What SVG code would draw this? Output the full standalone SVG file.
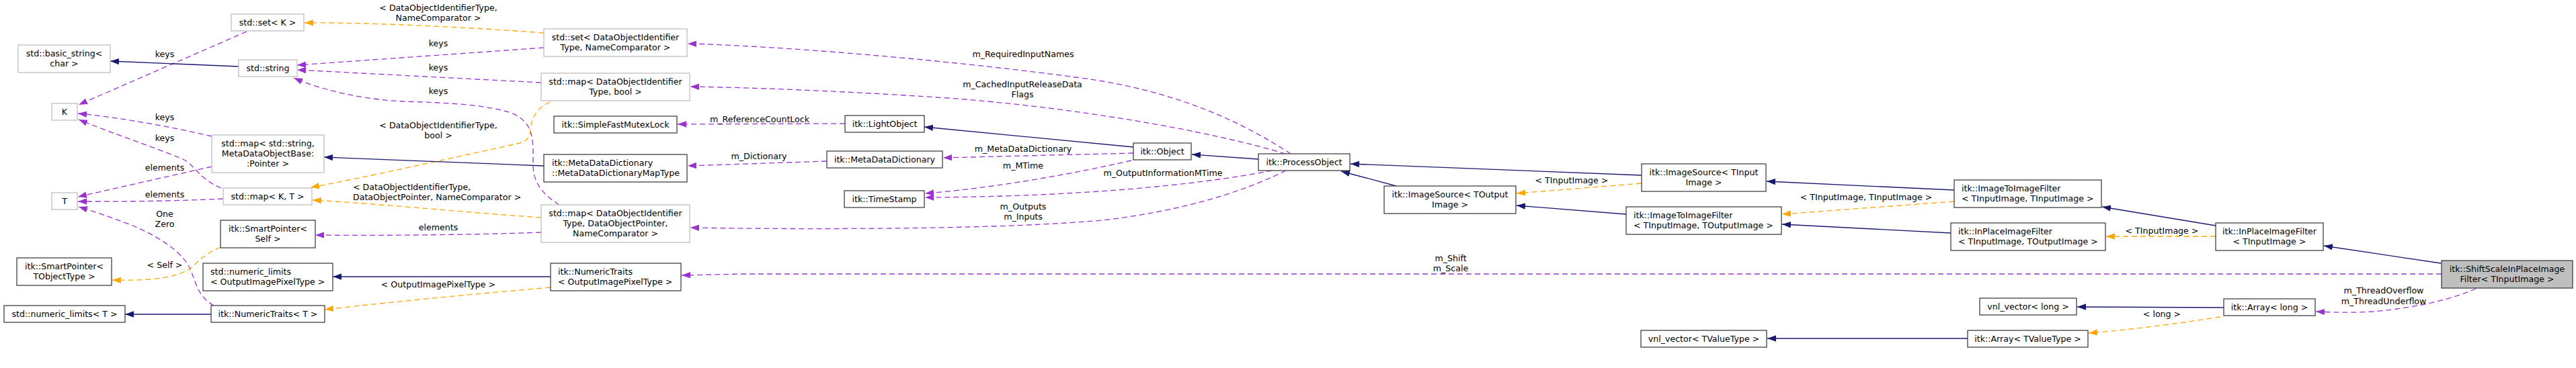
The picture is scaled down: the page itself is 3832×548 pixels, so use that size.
<svg xmlns="http://www.w3.org/2000/svg" width="3832" height="548" viewBox="0 0 3832 548">
<style>
text{font-family:"DejaVu Sans","Liberation Sans",sans-serif;font-size:12.6px;fill:#000}
.c{text-anchor:middle}
.l{text-anchor:start}
.nb rect{fill:#fff;stroke:#404040;stroke-width:1.3}
.ng rect{fill:#fff;stroke:#bfbfbf;stroke-width:1.3}
.ns rect{fill:#bfbfbf;stroke:#404040;stroke-width:1.3}
.e{fill:none;stroke-width:1.3}
.inh{stroke:#191970;marker-end:url(#aB)}
.use{stroke:#9a32cd;stroke-dasharray:8,5;marker-end:url(#aP)}
.tpl{stroke:#ffa500;stroke-dasharray:8,5;marker-end:url(#aO)}
</style>
<defs>
<marker id="aB" markerUnits="userSpaceOnUse" markerWidth="14" markerHeight="10" refX="13" refY="4.7" orient="auto"><path d="M0,0 L13,4.7 L0,9.4 z" fill="#191970" stroke="none"/></marker>
<marker id="aP" markerUnits="userSpaceOnUse" markerWidth="14" markerHeight="10" refX="13" refY="4.7" orient="auto"><path d="M0,0 L13,4.7 L0,9.4 z" fill="#9a32cd" stroke="none"/></marker>
<marker id="aO" markerUnits="userSpaceOnUse" markerWidth="14" markerHeight="10" refX="13" refY="4.7" orient="auto"><path d="M0,0 L13,4.7 L0,9.4 z" fill="#ffa500" stroke="none"/></marker>
</defs>
<rect x="0" y="0" width="3832" height="548" fill="#fff"/>
<g id="connectors">
<g><path class="e use" d="M367,47 L117,156"/><text class="c" x="245" y="85">keys</text></g>
<path class="e inh" d="M355,99 L164,91"/>
<g><path class="e use" d="M315,203 C260,190 180,175 116,169"/><text class="c" x="245" y="179">keys</text></g>
<g><path class="e use" d="M329,280 C295,266 290,245 270,236 C220,216 160,196 117,178"/><text class="c" x="245" y="210">keys</text></g>
<g><path class="e use" d="M315,248 L116,293"/><text class="c" x="245" y="254">elements</text></g>
<g><path class="e use" d="M332,296 C250,300 180,300 116,300"/><text class="c" x="245" y="294">elements</text></g>
<g><path class="e use" d="M318,455 C290,440 290,410 280,395 C265,370 230,350 200,337 C170,325 140,315 117,308"/><text class="c" x="245" y="323">One</text><text class="c" x="245" y="338">Zero</text></g>
<g><path class="e tpl" d="M328,368 C300,380 290,395 283,400 C260,415 220,418 167,417"/><text class="c" x="245" y="399">&lt; Self &gt;</text></g>
<path class="e inh" d="M314,468 L186,468"/>
<g><path class="e tpl" d="M809,49 C700,41 550,33 453,34"/><text class="c" x="652" y="16">&lt; DataObjectIdentifierType,</text><text class="c" x="652" y="31">NameComparator &gt;</text></g>
<g><path class="e use" d="M809,71 L442,97"/><text class="c" x="652" y="69">keys</text></g>
<g><path class="e use" d="M805,123 L442,104"/><text class="c" x="652" y="105">keys</text></g>
<g><path class="e use" d="M832,305 C800,285 792,265 793,240 C794,200 790,180 760,168 C720,155 660,153 600,151 C540,148 480,135 437,116"/><text class="c" x="652" y="140">keys</text></g>
<g><path class="e tpl" d="M818,152 C795,162 790,180 789,195 C787,210 780,212 760,216 C650,240 540,265 462,279"/><text class="c" x="652" y="191">&lt; DataObjectIdentifierType,</text><text class="c" x="652" y="206">bool &gt;</text></g>
<path class="e inh" d="M809,247 L482,234"/>
<g><path class="e tpl" d="M805,324 C700,317 560,303 465,298"/><text class="l" x="525" y="283">&lt; DataObjectIdentifierType,</text><text class="l" x="525" y="298">DataObjectPointer, NameComparator &gt;</text></g>
<g><path class="e use" d="M805,346 C700,350 550,351 469,350"/><text class="c" x="652" y="343">elements</text></g>
<path class="e inh" d="M819,412 L495,412"/>
<g><path class="e tpl" d="M819,428 C700,438 560,452 483,461"/><text class="c" x="652" y="428">&lt; OutputImagePixelType &gt;</text></g>
<g><path class="e use" d="M1920,229 C1860,190 1760,135 1600,115 C1400,88 1150,68 1023,65"/><text class="c" x="1522" y="85">m_RequiredInputNames</text></g>
<g><path class="e use" d="M1912,229 C1800,195 1600,160 1410,146 C1250,135 1100,130 1027,129"/><text class="c" x="1521" y="130">m_CachedInputReleaseData</text><text class="c" x="1521" y="145">Flags</text></g>
<g><path class="e use" d="M1257,184 L1008,185"/><text class="c" x="1130" y="182">m_ReferenceCountLock</text></g>
<path class="e inh" d="M1686,219 L1375,189"/>
<g><path class="e use" d="M1230,240 L1023,247"/><text class="c" x="1129" y="237">m_Dictionary</text></g>
<g><path class="e use" d="M1686,228 L1403,235"/><text class="c" x="1522" y="226">m_MetaDataDictionary</text></g>
<g><path class="e use" d="M1683,239 C1600,258 1480,280 1376,288"/><text class="c" x="1522" y="251">m_MTime</text></g>
<g><path class="e use" d="M1892,254 C1780,276 1600,293 1376,294"/><text class="c" x="1730" y="262">m_OutputInformationMTime</text></g>
<g><path class="e use" d="M1913,254 C1860,280 1780,310 1650,327 C1500,342 1200,342 1027,339"/><text class="c" x="1522" y="312">m_Outputs</text><text class="c" x="1522" y="327">m_Inputs</text></g>
<g><path class="e use" d="M3632,408 L1100,408 L1014,410"/><text class="c" x="2158" y="389">m_Shift</text><text class="c" x="2158" y="404">m_Scale</text></g>
<path class="e inh" d="M1872,237 L1773,230"/>
<path class="e inh" d="M2077,277 L1995,255"/>
<path class="e inh" d="M2442,261 L2009,244"/>
<path class="e inh" d="M2419,319 L2256,306"/>
<g><path class="e tpl" d="M2442,273 L2256,288"/><text class="c" x="2338" y="273">&lt; TInputImage &gt;</text></g>
<path class="e inh" d="M2907,283 L2628,270"/>
<g><path class="e tpl" d="M2907,300 L2651,319"/><text class="c" x="2776" y="298">&lt; TInputImage, TInputImage &gt;</text></g>
<path class="e inh" d="M2902,347 L2651,334"/>
<path class="e inh" d="M3296,336 L3127,308"/>
<g><path class="e tpl" d="M3296,352 L3133,352"/><text class="c" x="3216" y="348">&lt; TInputImage &gt;</text></g>
<path class="e inh" d="M3631,392 L3457,366"/>
<g><path class="e use" d="M3683,430 C3650,444 3600,458 3530,464 C3500,466 3470,465 3445,464"/><text class="c" x="3546" y="437">m_ThreadOverflow</text><text class="c" x="3546" y="453">m_ThreadUnderflow</text></g>
<path class="e inh" d="M3308,458 L3090,457"/>
<g><path class="e tpl" d="M3303,472 C3250,480 3180,490 3107,496"/><text class="c" x="3216" y="472">&lt; long &gt;</text></g>
<path class="e inh" d="M2927,504 L2629,504"/>
</g>
<g id="setK" class="ng"><rect x="344" y="21" width="108" height="25"/><text class="c" x="398" y="37.5">std::set&lt; K &gt;</text></g>
<g id="basicString" class="ng"><rect x="27" y="67" width="137" height="41"/><text class="c" x="95.5" y="84">std::basic_string&lt;</text><text class="c" x="95.5" y="99">char &gt;</text></g>
<g id="stdString" class="ng"><rect x="355" y="89" width="87" height="25"/><text class="c" x="398.5" y="105.5">std::string</text></g>
<g id="K" class="ng"><rect x="77" y="154" width="38" height="25"/><text class="c" x="96" y="170.5">K</text></g>
<g id="mapStringMeta" class="ng"><rect x="315" y="201" width="167" height="56"/><text class="c" x="398.5" y="218">std::map&lt; std::string,</text><text class="c" x="398.5" y="233">MetaDataObjectBase:</text><text class="c" x="398.5" y="248">:Pointer &gt;</text></g>
<g id="mapKT" class="ng"><rect x="332" y="280" width="132" height="25"/><text class="c" x="398" y="296.5">std::map&lt; K, T &gt;</text></g>
<g id="T" class="ng"><rect x="77" y="287" width="38" height="25"/><text class="c" x="96" y="303.5">T</text></g>
<g id="spSelf" class="nb"><rect x="328" y="328" width="141" height="41"/><text class="c" x="398.5" y="345">itk::SmartPointer&lt;</text><text class="c" x="398.5" y="360">Self &gt;</text></g>
<g id="spTObject" class="nb"><rect x="25" y="384" width="141" height="41"/><text class="c" x="95.5" y="401">itk::SmartPointer&lt;</text><text class="c" x="95.5" y="416">TObjectType &gt;</text></g>
<g id="nlOut" class="nb"><rect x="302" y="392" width="193" height="41"/><text class="l" x="313" y="409">std::numeric_limits</text><text class="l" x="313" y="424">&lt; OutputImagePixelType &gt;</text></g>
<g id="nlT" class="nb"><rect x="6" y="455" width="180" height="25"/><text class="c" x="96" y="471.5">std::numeric_limits&lt; T &gt;</text></g>
<g id="ntT" class="nb"><rect x="314" y="455" width="169" height="25"/><text class="c" x="398.5" y="471.5">itk::NumericTraits&lt; T &gt;</text></g>
<g id="setDO" class="ng"><rect x="809" y="43" width="213" height="41"/><text class="c" x="915.5" y="60">std::set&lt; DataObjectIdentifier</text><text class="c" x="915.5" y="75">Type, NameComparator &gt;</text></g>
<g id="mapDObool" class="ng"><rect x="805" y="109" width="221" height="41"/><text class="c" x="915.5" y="126">std::map&lt; DataObjectIdentifier</text><text class="c" x="915.5" y="141">Type, bool &gt;</text></g>
<g id="mutex" class="nb"><rect x="824" y="173" width="183" height="25"/><text class="c" x="915.5" y="189.5">itk::SimpleFastMutexLock</text></g>
<g id="mddMapType" class="nb"><rect x="809" y="230" width="213" height="41"/><text class="l" x="821" y="247">itk::MetaDataDictionary</text><text class="l" x="821" y="262">::MetaDataDictionaryMapType</text></g>
<g id="mapDOP" class="ng"><rect x="805" y="305" width="221" height="56"/><text class="c" x="915.5" y="322">std::map&lt; DataObjectIdentifier</text><text class="c" x="915.5" y="337">Type, DataObjectPointer,</text><text class="c" x="915.5" y="352">NameComparator &gt;</text></g>
<g id="ntOut" class="nb"><rect x="819" y="392" width="194" height="41"/><text class="l" x="830" y="409">itk::NumericTraits</text><text class="l" x="830" y="424">&lt; OutputImagePixelType &gt;</text></g>
<g id="lightObject" class="nb"><rect x="1257" y="172" width="118" height="25"/><text class="c" x="1316" y="188.5">itk::LightObject</text></g>
<g id="mdd" class="nb"><rect x="1230" y="225" width="172" height="25"/><text class="c" x="1316" y="241.5">itk::MetaDataDictionary</text></g>
<g id="timeStamp" class="nb"><rect x="1256" y="284" width="119" height="25"/><text class="c" x="1315.5" y="300.5">itk::TimeStamp</text></g>
<g id="object" class="nb"><rect x="1686" y="213" width="86" height="25"/><text class="c" x="1729" y="229.5">itk::Object</text></g>
<g id="processObject" class="nb"><rect x="1872" y="229" width="136" height="25"/><text class="c" x="1940" y="245.5">itk::ProcessObject</text></g>
<g id="imageSourceOut" class="nb"><rect x="2059" y="277" width="196" height="41"/><text class="c" x="2157" y="294">itk::ImageSource&lt; TOutput</text><text class="c" x="2157" y="309">Image &gt;</text></g>
<g id="imageSourceIn" class="nb"><rect x="2442" y="244" width="185" height="41"/><text class="c" x="2534.5" y="261">itk::ImageSource&lt; TInput</text><text class="c" x="2534.5" y="276">Image &gt;</text></g>
<g id="i2iOut" class="nb"><rect x="2419" y="308" width="231" height="41"/><text class="l" x="2430" y="325">itk::ImageToImageFilter</text><text class="l" x="2430" y="340">&lt; TInputImage, TOutputImage &gt;</text></g>
<g id="vnlT" class="nb"><rect x="2441" y="492" width="187" height="25"/><text class="c" x="2534.5" y="508.5">vnl_vector&lt; TValueType &gt;</text></g>
<g id="i2iIn" class="nb"><rect x="2907" y="268" width="219" height="41"/><text class="l" x="2918" y="285">itk::ImageToImageFilter</text><text class="l" x="2918" y="300">&lt; TInputImage, TInputImage &gt;</text></g>
<g id="ipOut" class="nb"><rect x="2902" y="332" width="230" height="41"/><text class="l" x="2913" y="349">itk::InPlaceImageFilter</text><text class="l" x="2913" y="364">&lt; TInputImage, TOutputImage &gt;</text></g>
<g id="ipIn" class="nb"><rect x="3296" y="332" width="160" height="41"/><text class="c" x="3376" y="349">itk::InPlaceImageFilter</text><text class="c" x="3376" y="364">&lt; TInputImage &gt;</text></g>
<g id="vnlLong" class="nb"><rect x="2945" y="444" width="144" height="25"/><text class="c" x="3017" y="460.5">vnl_vector&lt; long &gt;</text></g>
<g id="arrayT" class="nb"><rect x="2927" y="492" width="179" height="25"/><text class="c" x="3016.5" y="508.5">itk::Array&lt; TValueType &gt;</text></g>
<g id="arrayLong" class="nb"><rect x="3308" y="445" width="136" height="25"/><text class="c" x="3376" y="461.5">itk::Array&lt; long &gt;</text></g>
<g id="shiftScale" class="ns"><rect x="3632" y="388" width="195" height="41"/><text class="c" x="3729.5" y="405">itk::ShiftScaleInPlaceImage</text><text class="c" x="3729.5" y="420">Filter&lt; TInputImage &gt;</text></g>
</svg>
